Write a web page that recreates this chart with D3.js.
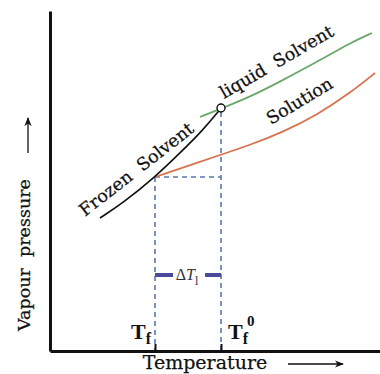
<!DOCTYPE html>
<html>
<head>
<meta charset="utf-8">
<script src="https://cdn.jsdelivr.net/npm/d3@7"></script>
<style>
  body { margin: 0; background: #fff; }
  text { font-family: "DejaVu Serif", "Liberation Serif", serif; fill: #111; white-space: pre; }
  .lbl { stroke: #111; stroke-width: 0.25px; }
</style>
</head>
<body>
<svg width="380" height="374"></svg>
<script>
// temperature / vapour pressure in arbitrary units
var frozenSolvent = [[50, 133], [73, 148], [105, 174], [130, 198], [153, 221], [168, 239], [171, 243]];
var liquidSolvent = [[150, 234], [170, 242], [200, 254], [233, 271], [267, 289], [300, 308], [322, 318]];
var solution = [[105, 174], [170, 196], [200, 206], [233, 219], [267, 236], [300, 258], [325, 278]];
var Tf = 105, Tf0 = 171;
var tickLabels = ["T", "T"];

var svg = d3.select("svg");

var x = d3.scaleLinear().domain([0, 330]).range([50, 380]),
    y = d3.scaleLinear().domain([0, 340]).range([351, 11]);

var line = d3.line()
    .x(function(d) { return x(d[0]); })
    .y(function(d) { return y(d[1]); })
    .curve(d3.curveBasis);

// dashed guides
var dash = svg.append("g")
    .attr("stroke", "#5a78b0")
    .attr("stroke-width", 1.6)
    .attr("stroke-dasharray", "5,4")
    .attr("fill", "none");
dash.append("line").attr("x1", x(Tf)).attr("x2", x(Tf)).attr("y1", y(174)).attr("y2", y(0));
dash.append("line").attr("x1", x(Tf0)).attr("x2", x(Tf0)).attr("y1", y(243) + 4).attr("y2", y(0));
dash.append("line").attr("x1", x(Tf)).attr("x2", x(Tf0)).attr("y1", y(174)).attr("y2", y(174));

// curves
svg.append("path").datum(solution).attr("d", line)
    .attr("fill", "none").attr("stroke", "#d9714e").attr("stroke-width", 1.8);
svg.append("path").datum(liquidSolvent).attr("d", line)
    .attr("fill", "none").attr("stroke", "#6aa86a").attr("stroke-width", 1.8);
svg.append("path").datum(frozenSolvent).attr("d", line)
    .attr("fill", "none").attr("stroke", "#111").attr("stroke-width", 1.6);

svg.append("circle").attr("cx", x(Tf0)).attr("cy", y(243)).attr("r", 4)
    .attr("fill", "#fff").attr("stroke", "#111").attr("stroke-width", 1.4);

// axes
var xAxis = svg.append("g")
    .attr("transform", "translate(0," + y(0) + ")")
    .call(d3.axisBottom(x).tickValues([Tf, Tf0]).tickSizeInner(-7).tickSizeOuter(0).tickFormat(""));
xAxis.select(".domain").attr("stroke-width", 3).attr("stroke", "#111");
xAxis.selectAll(".tick line").attr("stroke-width", 2).attr("stroke", "#111");

var yAxis = svg.append("g")
    .attr("transform", "translate(" + x(0) + ",0)")
    .call(d3.axisLeft(y).tickValues([]).tickSizeOuter(0));
yAxis.select(".domain").attr("stroke-width", 3).attr("stroke", "#111");

// delta T bar
var barY = 275;
svg.append("line").attr("x1", x(Tf)).attr("x2", x(Tf) + 18).attr("y1", barY).attr("y2", barY)
    .attr("stroke", "#4a4a9c").attr("stroke-width", 4);
svg.append("line").attr("x1", x(Tf0) - 16).attr("x2", x(Tf0)).attr("y1", barY).attr("y2", barY)
    .attr("stroke", "#4a4a9c").attr("stroke-width", 4);
var dt = svg.append("text").attr("x", (x(Tf) + x(Tf0)) / 2 - 1).attr("y", barY + 5)
    .attr("text-anchor", "middle").style("font-family", "Liberation Serif").style("font-size", "16px").style("fill", "#333");
dt.append("tspan").text("Δ");
dt.append("tspan").style("font-style", "italic").text("T");
dt.append("tspan").attr("dy", 5).style("font-size", "12px").text("l");

// tick labels
var t1 = svg.append("text").attr("x", x(Tf) - 4).attr("y", 339)
    .attr("text-anchor", "end").style("font-family", "Liberation Serif")
    .style("font-weight", "bold").style("font-size", "22px");
t1.append("tspan").text(tickLabels[0]);
t1.append("tspan").attr("dy", 5).style("font-size", "16px").text("f");
var t2 = svg.append("text").attr("x", x(Tf0) + 7).attr("y", 339)
    .style("font-family", "Liberation Serif")
    .style("font-weight", "bold").style("font-size", "22px");
t2.append("tspan").text(tickLabels[1]);
t2.append("tspan").attr("dy", 5).style("font-size", "16px").text("f");
t2.append("tspan").attr("dy", -18).attr("dx", -1).style("font-size", "15px").text("0");

// curve labels
function rotLabel(txt, px, py, ang, size) {
  svg.append("text").attr("class", "lbl")
      .attr("transform", "translate(" + px + "," + py + ") rotate(" + ang + ")")
      .style("font-size", size + "px")
      .text(txt);
}
rotLabel("Frozen  Solvent", 85, 217, -38, 17.5);
rotLabel("liquid  Solvent", 224, 99, -30, 17.5);
rotLabel("Solution", 271, 125, -31, 17.5);

// axis titles
svg.append("text").attr("class", "lbl")
    .attr("transform", "translate(30,255) rotate(-90)")
    .attr("text-anchor", "middle").style("font-size", "17.5px")
    .text("Vapour  pressure");
svg.append("text").attr("class", "lbl").attr("x", 205).attr("y", 369)
    .attr("text-anchor", "middle").style("font-size", "19px")
    .text("Temperature");

// axis arrows
svg.append("defs").append("marker")
    .attr("id", "ah").attr("viewBox", "0 0 10 10").attr("refX", 9).attr("refY", 5)
    .attr("markerWidth", 7).attr("markerHeight", 7).attr("orient", "auto")
    .append("path").attr("d", "M0,1 L10,5 L0,9 L3,5 Z").attr("fill", "#111");
svg.append("line").attr("x1", 28).attr("x2", 28).attr("y1", 153).attr("y2", 118)
    .attr("stroke", "#111").attr("stroke-width", 1.3).attr("marker-end", "url(#ah)");
svg.append("line").attr("x1", 288).attr("x2", 343).attr("y1", 364).attr("y2", 364)
    .attr("stroke", "#111").attr("stroke-width", 1.3).attr("marker-end", "url(#ah)");
</script>
</body>
</html>
